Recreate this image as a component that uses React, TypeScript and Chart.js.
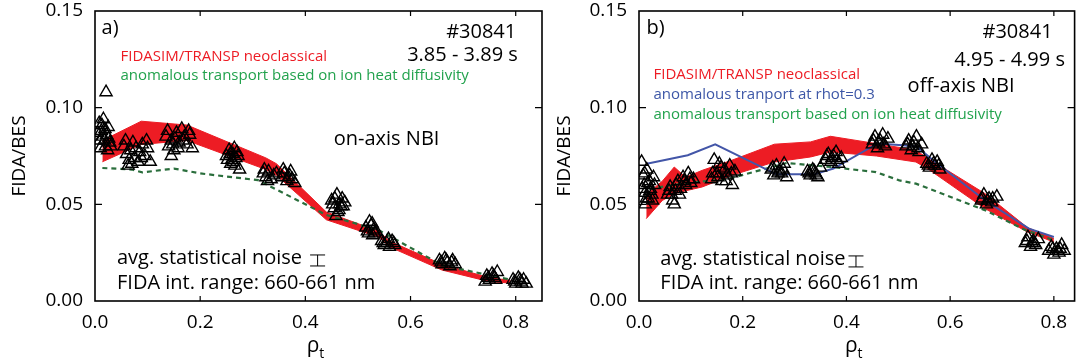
import React, { useEffect, useRef } from 'react';
import { Chart, registerables } from 'chart.js';

Chart.register(...registerables);
Chart.defaults.font.family = '"Open Sans", sans-serif';
Chart.defaults.color = '#000';

// ---------- axis ticks ----------
const rhoTicks = [0, 0.2, 0.4, 0.6, 0.8];
const fidaTicks = [0, 0.05, 0.1, 0.15];

// ---------- panel a) on-axis NBI ----------
const aMeasRho = [
  0.008, 0.012, 0.015, 0.018, 0.020, 0.022, 0.025, 0.028, 0.010, 0.016, 0.024, 0.021,
  0.055, 0.060, 0.065, 0.068, 0.072, 0.075, 0.085, 0.090, 0.095, 0.100, 0.105, 0.070,
  0.135, 0.140, 0.145, 0.150, 0.155, 0.160, 0.165, 0.170, 0.175, 0.180, 0.145, 0.185,
  0.250, 0.255, 0.260, 0.262, 0.265, 0.268, 0.270, 0.258, 0.275, 0.263,
  0.320, 0.325, 0.330, 0.335, 0.340, 0.355, 0.360, 0.365, 0.370, 0.375, 0.380,
  0.450, 0.455, 0.460, 0.462, 0.465, 0.470, 0.458, 0.468, 0.475,
  0.515, 0.520, 0.525, 0.528, 0.530, 0.535, 0.522,
  0.545, 0.550, 0.555, 0.560, 0.565, 0.570,
  0.655, 0.660, 0.665, 0.670, 0.675, 0.680, 0.685,
  0.745, 0.750, 0.755, 0.760, 0.765, 0.742,
  0.795, 0.800, 0.805, 0.810, 0.815, 0.820,
  0.005, 0.013, 0.019, 0.026, 0.030, 0.009, 0.058, 0.063, 0.078, 0.082, 0.088, 0.098,
  0.138, 0.148, 0.152, 0.158, 0.168, 0.178, 0.252, 0.257, 0.266, 0.272,
  0.322, 0.328, 0.345, 0.358, 0.368, 0.372, 0.452, 0.456, 0.464, 0.472,
  0.518, 0.527, 0.532, 0.548, 0.558, 0.568, 0.658, 0.668, 0.678,
  0.748, 0.758, 0.762, 0.798, 0.808, 0.812,
];
const aMeasFida = [
  0.092, 0.088, 0.085, 0.083, 0.080, 0.086, 0.090, 0.082, 0.079, 0.094, 0.078, 0.108,
  0.080, 0.076, 0.073, 0.078, 0.082, 0.074, 0.077, 0.081, 0.075, 0.079, 0.072, 0.071,
  0.085, 0.080, 0.083, 0.078, 0.087, 0.082, 0.089, 0.085, 0.081, 0.086, 0.075, 0.079,
  0.075, 0.078, 0.073, 0.076, 0.079, 0.074, 0.077, 0.071, 0.068, 0.072,
  0.066, 0.064, 0.067, 0.063, 0.065, 0.064, 0.066, 0.062, 0.065, 0.063, 0.061,
  0.052, 0.048, 0.055, 0.046, 0.050, 0.053, 0.044, 0.049, 0.051,
  0.038, 0.035, 0.039, 0.034, 0.037, 0.036, 0.041,
  0.031, 0.029, 0.030, 0.028, 0.031, 0.029,
  0.021, 0.019, 0.022, 0.020, 0.018, 0.021, 0.019,
  0.013, 0.011, 0.014, 0.012, 0.015, 0.010,
  0.011, 0.009, 0.012, 0.010, 0.011, 0.009,
  0.087, 0.091, 0.089, 0.084, 0.080, 0.083, 0.083, 0.070, 0.079, 0.072, 0.074, 0.083,
  0.088, 0.081, 0.084, 0.079, 0.083, 0.088, 0.073, 0.076, 0.070, 0.075,
  0.068, 0.062, 0.066, 0.068, 0.064, 0.067, 0.050, 0.053, 0.047, 0.049,
  0.036, 0.040, 0.035, 0.030, 0.032, 0.030, 0.020, 0.021, 0.020,
  0.012, 0.013, 0.011, 0.010, 0.011, 0.009,
];
const aNeoRho = [0.014, 0.088, 0.175, 0.325, 0.345, 0.44, 0.54, 0.56, 0.66, 0.75, 0.79];
const aNeoUpper = [0.083, 0.093, 0.091, 0.074, 0.071, 0.046, 0.036, 0.031, 0.019, 0.012, 0.0107];
const aNeoLower = [0.072, 0.081, 0.083, 0.068, 0.065, 0.042, 0.033, 0.028, 0.016, 0.010, 0.0093];
const aDiffRho = [0.014, 0.07, 0.09, 0.15, 0.20, 0.31, 0.44, 0.54, 0.66, 0.75, 0.79];
const aDiffFida = [0.0688, 0.068, 0.0665, 0.0685, 0.066, 0.0625, 0.0445, 0.0366, 0.0185, 0.0133, 0.011];

// ---------- panel b) off-axis NBI ----------
const bMeasRho = [
  0.005, 0.008, 0.010, 0.012, 0.015, 0.018, 0.020, 0.022, 0.025, 0.028, 0.012, 0.030,
  0.055, 0.060, 0.065, 0.070, 0.075, 0.080, 0.085, 0.090, 0.095, 0.100, 0.105, 0.068,
  0.140, 0.145, 0.150, 0.155, 0.160, 0.165, 0.170, 0.175, 0.180, 0.185,
  0.255, 0.260, 0.265, 0.270, 0.275, 0.280, 0.285,
  0.325, 0.330, 0.335, 0.340, 0.345, 0.350,
  0.360, 0.365, 0.370, 0.375, 0.380, 0.385, 0.390,
  0.450, 0.455, 0.460, 0.465, 0.470, 0.475, 0.480,
  0.515, 0.520, 0.525, 0.530, 0.535, 0.540, 0.545,
  0.555, 0.560, 0.565, 0.570, 0.575, 0.580,
  0.660, 0.665, 0.670, 0.675, 0.680, 0.690,
  0.745, 0.750, 0.755, 0.760, 0.765, 0.770,
  0.790, 0.795, 0.800, 0.805, 0.810, 0.815, 0.820,
  0.006, 0.011, 0.014, 0.017, 0.021, 0.026, 0.058, 0.063, 0.072, 0.078, 0.088, 0.098,
  0.142, 0.152, 0.158, 0.168, 0.178, 0.258, 0.268, 0.278,
  0.328, 0.338, 0.342, 0.362, 0.372, 0.382, 0.452, 0.462, 0.472,
  0.518, 0.528, 0.538, 0.558, 0.568, 0.578, 0.662, 0.672, 0.682,
  0.748, 0.758, 0.762, 0.798, 0.808, 0.812,
];
const bMeasFida = [
  0.072, 0.065, 0.060, 0.056, 0.068, 0.053, 0.062, 0.058, 0.055, 0.064, 0.050, 0.060,
  0.055, 0.059, 0.052, 0.057, 0.062, 0.058, 0.064, 0.060, 0.066, 0.061, 0.063, 0.050,
  0.063, 0.073, 0.066, 0.071, 0.062, 0.068, 0.065, 0.070, 0.060, 0.067,
  0.068, 0.065, 0.070, 0.067, 0.066, 0.071, 0.064,
  0.067, 0.065, 0.068, 0.066, 0.064, 0.069,
  0.073, 0.076, 0.072, 0.075, 0.077, 0.071, 0.074,
  0.081, 0.085, 0.079, 0.083, 0.086, 0.080, 0.084,
  0.080, 0.083, 0.078, 0.082, 0.085, 0.077, 0.081,
  0.071, 0.069, 0.073, 0.070, 0.072, 0.068,
  0.052, 0.055, 0.050, 0.053, 0.051, 0.054,
  0.030, 0.033, 0.028, 0.031, 0.029, 0.032,
  0.026, 0.028, 0.024, 0.027, 0.025, 0.029, 0.026,
  0.058, 0.066, 0.053, 0.061, 0.057, 0.052, 0.057, 0.055, 0.060, 0.055, 0.062, 0.063,
  0.066, 0.064, 0.069, 0.062, 0.066, 0.069, 0.066, 0.068,
  0.066, 0.067, 0.065, 0.075, 0.074, 0.073, 0.083, 0.082, 0.081,
  0.081, 0.080, 0.079, 0.070, 0.071, 0.070, 0.053, 0.052, 0.053,
  0.031, 0.030, 0.030, 0.027, 0.026, 0.027,
];
const bNeoRho = [0.014, 0.045, 0.068, 0.09, 0.122, 0.179, 0.261, 0.331, 0.369, 0.458, 0.534, 0.559, 0.667, 0.749, 0.80];
const bNeoUpper = [0.055, 0.062, 0.0693, 0.064, 0.0676, 0.0728, 0.0811, 0.0823, 0.0852, 0.0814, 0.078, 0.0735, 0.0556, 0.038, 0.0323];
const bNeoLower = [0.0426, 0.052, 0.0555, 0.057, 0.059, 0.065, 0.0719, 0.0745, 0.0771, 0.075, 0.0719, 0.068, 0.0478, 0.0357, 0.0305];
const bRhotRho = [0.015, 0.094, 0.147, 0.265, 0.338, 0.375, 0.46, 0.535, 0.567, 0.667, 0.752, 0.80];
const bRhotFida = [0.071, 0.0754, 0.081, 0.0655, 0.0655, 0.0685, 0.0815, 0.080, 0.0728, 0.0521, 0.0374, 0.0331];
const bDiffRho = [0.02, 0.09, 0.17, 0.285, 0.371, 0.457, 0.502, 0.534, 0.667, 0.746, 0.80];
const bDiffFida = [0.058, 0.061, 0.063, 0.0714, 0.0693, 0.0667, 0.0624, 0.0607, 0.047, 0.0366, 0.0314];

// ---------- styles ----------
const RED = '#ED1C24';
const GREEN_LINE = '#2a6e3c';
const GREEN_TEXT = '#22a24d';
const BLUE = '#4356a8';
const BLUE_TEXT = '#3d57a7';

type Note = {
  text: string;
  x: number;
  y: number;
  align: CanvasTextAlign;
  size: number;
  color: string;
  errorBarGap?: number;
};

const aNotes: Note[] = [
  { text: 'a)', x: 0.0125, y: 0.1413, align: 'left', size: 20, color: '#000' },
  { text: '#30841', x: 0.801, y: 0.1392, align: 'right', size: 20, color: '#000' },
  { text: '3.85 - 3.89 s', x: 0.804, y: 0.1272, align: 'right', size: 20, color: '#000' },
  { text: 'FIDASIM/TRANSP neoclassical', x: 0.0485, y: 0.1264, align: 'left', size: 15, color: RED },
  { text: 'anomalous transport based on ion heat diffusivity', x: 0.0485, y: 0.1164, align: 'left', size: 15, color: GREEN_TEXT },
  { text: 'on-axis NBI', x: 0.454, y: 0.0837, align: 'left', size: 20, color: '#000' },
  { text: 'avg. statistical noise', x: 0.0418, y: 0.022, align: 'left', size: 20, color: '#000', errorBarGap: 8 },
  { text: 'FIDA int. range: 660-661 nm', x: 0.0418, y: 0.00905, align: 'left', size: 20, color: '#000' },
];

const bNotes: Note[] = [
  { text: 'b)', x: 0.0146, y: 0.1413, align: 'left', size: 20, color: '#000' },
  { text: '#30841', x: 0.7976, y: 0.1392, align: 'right', size: 20, color: '#000' },
  { text: '4.95 - 4.99 s', x: 0.8214, y: 0.1246, align: 'right', size: 20, color: '#000' },
  { text: 'FIDASIM/TRANSP neoclassical', x: 0.028, y: 0.1169, align: 'left', size: 15, color: RED },
  { text: 'anomalous tranport at rhot=0.3', x: 0.028, y: 0.1066, align: 'left', size: 15, color: BLUE_TEXT },
  { text: 'anomalous transport based on ion heat diffusivity', x: 0.028, y: 0.0962, align: 'left', size: 15, color: GREEN_TEXT },
  { text: 'off-axis NBI', x: 0.518, y: 0.1108, align: 'left', size: 20, color: '#000' },
  { text: 'avg. statistical noise', x: 0.0412, y: 0.0215, align: 'left', size: 20, color: '#000', errorBarGap: 3 },
  { text: 'FIDA int. range: 660-661 nm', x: 0.0412, y: 0.00905, align: 'left', size: 20, color: '#000' },
];

const toPts = (xs: number[], ys: number[]) => xs.map((x, i) => ({ x, y: ys[i] }));

function measuredSet(xs: number[], ys: number[]) {
  return {
    label: 'FIDA/BES measured',
    data: toPts(xs, ys),
    showLine: false,
    pointStyle: 'triangle',
    pointRadius: 7,
    pointBorderColor: '#000',
    pointBackgroundColor: 'rgba(255,255,255,0)',
    pointBorderWidth: 1.4,
    order: 0,
  };
}

function bandSets(xs: number[], up: number[], lo: number[]) {
  return [
    {
      label: 'FIDASIM/TRANSP neoclassical',
      data: toPts(xs, up),
      borderColor: RED,
      borderWidth: 1,
      backgroundColor: RED,
      fill: '+1',
      pointRadius: 0,
      order: 3,
    },
    {
      label: 'neoclassical lower',
      data: toPts(xs, lo),
      borderColor: RED,
      borderWidth: 1,
      backgroundColor: RED,
      fill: false,
      pointRadius: 0,
      order: 3,
    },
  ];
}

function lineSet(label: string, xs: number[], ys: number[], color: string, dashed: boolean) {
  return {
    label,
    data: toPts(xs, ys),
    borderColor: color,
    borderWidth: dashed ? 2.2 : 2,
    borderDash: dashed ? [5, 4] : [],
    fill: false,
    pointRadius: 0,
    order: dashed ? 2 : 1,
  };
}

function makeDecor(notes: Note[]) {
  return {
    id: 'panelDecor',
    afterDraw(chart: any) {
      const { ctx, chartArea: ca, scales } = chart;
      const xs = scales.x;
      const ys = scales.y;
      ctx.save();
      // frame
      ctx.strokeStyle = '#000';
      ctx.lineWidth = 1.6;
      ctx.strokeRect(ca.left, ca.top, ca.right - ca.left, ca.bottom - ca.top);
      // inward ticks
      ctx.lineWidth = 1.2;
      ctx.beginPath();
      for (const v of rhoTicks) {
        const px = xs.getPixelForValue(v);
        if (px <= ca.left + 1) continue;
        ctx.moveTo(px, ca.bottom);
        ctx.lineTo(px, ca.bottom - 5);
        ctx.moveTo(px, ca.top);
        ctx.lineTo(px, ca.top + 5);
      }
      for (const v of fidaTicks) {
        const py = ys.getPixelForValue(v);
        if (py >= ca.bottom - 1 || py <= ca.top + 1) continue;
        ctx.moveTo(ca.left, py);
        ctx.lineTo(ca.left + 7, py);
        ctx.moveTo(ca.right, py);
        ctx.lineTo(ca.right - 7, py);
      }
      ctx.stroke();

      // annotations
      ctx.textBaseline = 'middle';
      for (const n of notes) {
        ctx.font = `${n.size}px "Open Sans", sans-serif`;
        ctx.fillStyle = n.color;
        ctx.textAlign = n.align;
        const px = xs.getPixelForValue(n.x);
        const py = ys.getPixelForValue(n.y);
        ctx.fillText(n.text, px, py);
        if (n.errorBarGap !== undefined) {
          const w = ctx.measureText(n.text).width;
          const bx = px + w + n.errorBarGap;
          const cy = py + 2;
          ctx.strokeStyle = '#000';
          ctx.lineWidth = 1;
          ctx.beginPath();
          ctx.moveTo(bx, cy - 5.5);
          ctx.lineTo(bx + 15, cy - 5.5);
          ctx.moveTo(bx, cy + 5.5);
          ctx.lineTo(bx + 15, cy + 5.5);
          ctx.moveTo(bx + 7.5, cy - 5.5);
          ctx.lineTo(bx + 7.5, cy + 5.5);
          ctx.stroke();
        }
      }

      // x-axis title: rho with subscript t
      const cx = (ca.left + ca.right) / 2 - 3;
      ctx.fillStyle = '#000';
      ctx.textAlign = 'left';
      ctx.textBaseline = 'alphabetic';
      ctx.font = '21px "Open Sans", sans-serif';
      const w1 = ctx.measureText('ρ').width;
      ctx.font = '14px "Open Sans", sans-serif';
      const w2 = ctx.measureText('t').width;
      const x0 = cx - (w1 + w2) / 2;
      ctx.font = '21px "Open Sans", sans-serif';
      ctx.fillText('ρ', x0, 352);
      ctx.font = '14px "Open Sans", sans-serif';
      ctx.fillText('t', x0 + w1, 358);
      ctx.restore();
    },
  };
}

type PanelProps = {
  left: number;
  width: number;
  yAxisWidth: number;
  padRight: number;
  titlePad: number;
  xMax: number;
  datasets: any[];
  notes: Note[];
};

function Panel({ left, width, yAxisWidth, padRight, titlePad, xMax, datasets, notes }: PanelProps) {
  const ref = useRef<HTMLCanvasElement>(null);
  useEffect(() => {
    if (!ref.current) return;
    const chart = new Chart(ref.current, {
      type: 'line',
      data: { datasets },
      options: {
        responsive: false,
        animation: false,
        devicePixelRatio: 1,
        layout: { padding: { top: 11, right: padRight, left: 0, bottom: 0 } },
        plugins: {
          legend: { display: false },
          tooltip: { enabled: false },
        },
        elements: { line: { tension: 0 } },
        scales: {
          x: {
            type: 'linear',
            min: 0,
            max: xMax,
            afterBuildTicks: (s: any) => {
              s.ticks = rhoTicks.map((v) => ({ value: v }));
            },
            afterFit: (s: any) => {
              s.height = 62;
              s.paddingLeft = 0;
              s.paddingRight = 0;
            },
            grid: { display: false, drawTicks: false },
            border: { display: false },
            ticks: {
              padding: 10,
              color: '#000',
              font: { size: 19 },
              maxRotation: 0,
              autoSkip: false,
              callback: (v: any) => Number(v).toFixed(1),
            },
          },
          y: {
            type: 'linear',
            min: 0,
            max: 0.15,
            afterBuildTicks: (s: any) => {
              s.ticks = fidaTicks.map((v) => ({ value: v }));
            },
            afterFit: (s: any) => {
              s.width = yAxisWidth;
              s.paddingTop = 0;
              s.paddingBottom = 0;
            },
            grid: { display: false, drawTicks: false },
            border: { display: false },
            ticks: {
              padding: 12,
              color: '#000',
              font: { size: 19 },
              autoSkip: false,
              callback: (v: any) => Number(v).toFixed(2),
            },
            title: {
              display: true,
              text: 'FIDA/BES',
              color: '#000',
              font: { size: 19 },
              padding: { top: titlePad, bottom: 0 },
            },
          },
        },
      },
      plugins: [makeDecor(notes)],
    } as any);
    return () => chart.destroy();
  }, []);
  return (
    <canvas
      ref={ref}
      width={width}
      height={363}
      style={{ position: 'absolute', left, top: 0, width, height: 363 }}
    />
  );
}

export default function App() {
  const aSets = [
    measuredSet(aMeasRho, aMeasFida),
    lineSet('anomalous transport based on ion heat diffusivity', aDiffRho, aDiffFida, GREEN_LINE, true),
    ...bandSets(aNeoRho, aNeoUpper, aNeoLower),
  ];
  const bSets = [
    measuredSet(bMeasRho, bMeasFida),
    lineSet('anomalous tranport at rhot=0.3', bRhotRho, bRhotFida, BLUE, false),
    lineSet('anomalous transport based on ion heat diffusivity', bDiffRho, bDiffFida, GREEN_LINE, true),
    ...bandSets(bNeoRho, bNeoUpper, bNeoLower),
  ];
  return (
    <div style={{ position: 'fixed', left: 0, top: 0, width: 1083, height: 363, background: '#fff', overflow: 'hidden' }}>
      <Panel left={0} width={560} yAxisWidth={95} padRight={18} titlePad={8.6} xMax={0.85} datasets={aSets} notes={aNotes} />
      <Panel left={540} width={543} yAxisWidth={99} padRight={2} titlePad={13.6} xMax={0.84} datasets={bSets} notes={bNotes} />
    </div>
  );
}
